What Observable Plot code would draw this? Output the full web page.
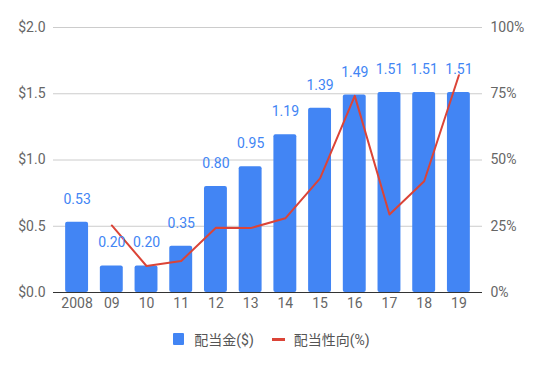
<!DOCTYPE html>
<html><head><meta charset="utf-8">
<script src="https://cdn.jsdelivr.net/npm/d3@7"></script>
<script src="https://cdn.jsdelivr.net/npm/@observablehq/plot@0.6"></script>
<style>
body{margin:0;background:#fff;font-family:Roboto,"Noto Sans CJK JP",sans-serif;}
#legend{display:flex;justify-content:center;align-items:center;height:42px;font-size:14px;color:#555;font-family:Roboto,"Noto Sans CJK JP",sans-serif;}
.item{display:flex;align-items:center;margin:0 9px;}
.sw{width:11px;height:12px;background:#4285f4;margin-right:10px;border-radius:1px;}
.ln{width:13px;height:3px;background:#db4437;margin-right:9px;}
</style></head>
<body>
<div id="chart"></div>
<div id="legend"><div class="item"><div class="sw"></div>配当金($)</div><div class="item"><div class="ln"></div>配当性向(%)</div></div>
<script>
const years = ["2008","09","10","11","12","13","14","15","16","17","18","19"];
const dividends = [0.53,0.20,0.20,0.35,0.80,0.95,1.19,1.39,1.49,1.51,1.51,1.51];
const payoutRatio = [null,25.3,10,11.9,24.4,24.3,28,43.1,74.2,29.4,42,82];
const leftTicks = [0,0.5,1,1.5,2];

const data = years.map((y,i)=>({year:y, div:dividends[i], ratio:payoutRatio[i]}));
const lineData = data.filter(d=>d.ratio!=null);

const chart = Plot.plot({
  width:543, height:318,
  marginLeft:53, marginRight:61, marginTop:27, marginBottom:26,
  style:{fontFamily:"Roboto, 'Noto Sans CJK JP', sans-serif", fontSize:"14px", color:"#666", background:"#fff"},
  x:{domain:years, paddingInner:0.34, paddingOuter:0.35, round:false, label:null},
  y:{domain:[0,2], label:null},
  marks:[
    Plot.ruleY(leftTicks.slice(1), {stroke:"#ccc", strokeWidth:1}),
    Plot.axisY({ticks:leftTicks, tickFormat:d=>"$"+d.toFixed(1), tickSize:0, tickPadding:8, fontSize:14, label:null}),
    Plot.axisY({ticks:leftTicks, anchor:"right", tickFormat:d=>(d*50)+"%", tickSize:0, tickPadding:8, fontSize:14, label:null}),
    Plot.axisX({tickSize:0, tickPadding:6, fontSize:14, label:null}),
    Plot.barY(data, {x:"year", y:"div", fill:"#4285f4", rx:2}),
    Plot.ruleY([0], {stroke:"#333", strokeWidth:1}),
    Plot.line(lineData, {x:"year", y:d=>d.ratio/50, stroke:"#db4437", strokeWidth:2}),
    Plot.text(data, {x:"year", y:"div", text:d=>d.div.toFixed(2), dy:-23, fill:"#4285f4", fontSize:14})
  ]
});
document.getElementById("chart").appendChild(chart);
</script>
</body></html>
